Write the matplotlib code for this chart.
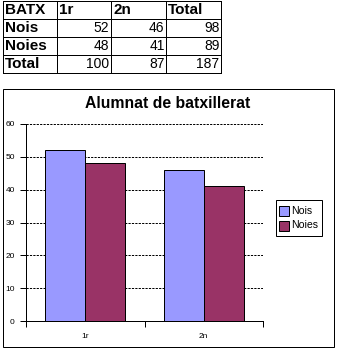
import matplotlib
matplotlib.use("Agg")
import matplotlib.pyplot as plt
from matplotlib.patches import Rectangle

# ---- data ----
table_header = ["BATX", "1r", "2n", "Total"]
row_labels = ["Nois", "Noies", "Total"]
table_values = [[52, 46, 98], [48, 41, 89], [100, 87, 187]]

categories = ["1r", "2n"]
series_names = ["Nois", "Noies"]
nois = [52, 46]
noies = [48, 41]
yticks = [0, 10, 20, 30, 40, 50, 60]
title = "Alumnat de batxillerat"
colors = ["#9999FF", "#993366"]

W, H = 338, 349
DPI = 100
plt.rcParams['font.family'] = ['Liberation Sans', 'DejaVu Sans']
fig = plt.figure(figsize=(W / DPI, H / DPI), dpi=DPI)

# overlay in pixel coordinates
ov = fig.add_axes([0, 0, 1, 1], zorder=0)
ov.set_xlim(0, W)
ov.set_ylim(H, 0)
ov.axis('off')
lw = 72 / DPI

# ---- table ----
col_x = [3, 57, 111, 166, 221]
row_y = [1, 19, 37, 55, 73]
for x in col_x:
    ov.plot([x, x], [row_y[0], row_y[-1]], color='black', lw=lw, solid_capstyle='projecting')
for y in row_y:
    ov.plot([col_x[0], col_x[-1]], [y, y], color='black', lw=lw, solid_capstyle='projecting')
for j, h in enumerate(table_header):
    ov.text(col_x[j] + 2, (row_y[0] + row_y[1]) / 2 + 0.5, h, ha='left', va='center',
            fontsize=11, fontweight='bold')
for i, rl in enumerate(row_labels):
    yc = (row_y[i + 1] + row_y[i + 2]) / 2 + 0.5
    ov.text(col_x[0] + 2, yc, rl, ha='left', va='center', fontsize=11, fontweight='bold')
    for j, v in enumerate(table_values[i]):
        ov.text(col_x[j + 2] - 1.5, yc, str(v), ha='right', va='center', fontsize=10)

# ---- chart box ----
ov.add_patch(Rectangle((3, 89), 331, 258, fill=False, edgecolor='black', lw=lw))
ov.text(168, 103, title, ha='center', va='center', fontsize=11.3, fontweight='bold')

# ---- legend ----
ov.add_patch(Rectangle((276, 200), 46, 36, fill=False, edgecolor='black', lw=lw))
leg_y = [206, 221]
for k, name in enumerate(series_names):
    ov.add_patch(Rectangle((279, leg_y[k]), 10, 10, facecolor=colors[k], edgecolor='black', lw=lw))
    ov.text(291.5, leg_y[k] + 4.5, name, ha='left', va='center', fontsize=7.6)

# ---- chart axes ----
left, right, top, bottom = 26, 263, 124, 321
ax = fig.add_axes([left / W, (H - bottom) / H, (right - left) / W, (bottom - top) / H], zorder=1)
ax.patch.set_alpha(0)
bw = 0.337
xs = list(range(len(categories)))
ax.bar([x - bw / 2 for x in xs], nois, width=bw, color=colors[0], edgecolor='black', linewidth=lw, zorder=3)
ax.bar([x + bw / 2 for x in xs], noies, width=bw, color=colors[1], edgecolor='black', linewidth=lw, zorder=3)
ax.set_xlim(-0.5, len(categories) - 0.5)
ax.set_ylim(0, 60)
ax.set_yticks(yticks)
ax.set_yticklabels([str(t) for t in yticks], fontsize=6)
ax.set_xticks(xs)
ax.set_xticklabels(categories, fontsize=6)
ax.set_xticks([-0.5 + i for i in range(len(categories) + 1)], minor=True)
ax.tick_params(axis='x', which='major', length=0, pad=8.5)
ax.tick_params(axis='x', which='minor', length=4.5, width=lw, direction='out')
ax.tick_params(axis='y', length=4.3, width=lw, pad=3.8, direction='out')
for s in ['top', 'right']:
    ax.spines[s].set_visible(False)
for s in ['left', 'bottom']:
    ax.spines[s].set_linewidth(lw)
ax.set_axisbelow(True)
ax.yaxis.grid(True, color='black', linewidth=lw, linestyle=(0, (2.2, 1.2)))
ax.xaxis.grid(False)

fig.savefig("out.png", dpi=DPI)
